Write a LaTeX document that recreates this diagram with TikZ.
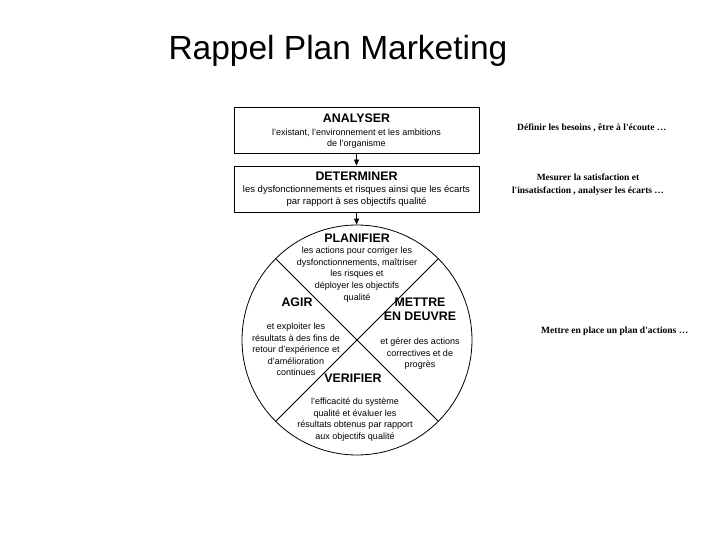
\documentclass[tikz,border=0pt]{standalone}
\usepackage{fontspec}
\setmainfont{Liberation Sans}
\newfontfamily\notefont{Liberation Serif}
\usetikzlibrary{arrows.meta}

\tikzset{
  stepbox/.style={draw, thick, minimum width=245pt, minimum height=46pt, inner sep=0pt},
  head/.style={font=\fontsize{12.4}{13.6}\selectfont\bfseries, align=center, inner sep=0pt},
  body/.style={align=center, font=\fontsize{9}{11.6}\selectfont, inner sep=0pt},
  note/.style={font=\notefont\bfseries\fontsize{9.5}{13}\selectfont, align=center, inner sep=0pt},
  flow/.style={-{Triangle[length=6pt,width=5pt]}, thick}
}

\begin{document}
\begin{tikzpicture}[x=1pt, y=-1pt]
  \useasboundingbox (0,0) rectangle (720,540);

  % Title
  \node[font=\fontsize{33.5}{38}\selectfont] (title) at (338,51) {Rappel Plan Marketing};

  % Boxes
  \node[stepbox] (analyser) at (356.5,130) {};
  \node[head] (analyser-t) at (356.5,118) {ANALYSER};
  \node[body] (analyser-b) at (356.5,138.5) {l'existant, l'environnement et les ambitions\\de l'organisme};

  \node[stepbox] (determiner) at (356.5,189) {};
  \node[head] (determiner-t) at (356.5,176) {DETERMINER};
  \node[body, font=\fontsize{9.5}{11.6}\selectfont] (determiner-b) at (356.5,196) {les dysfonctionnements et risques ainsi que les écarts\\par rapport à ses objectifs qualité};

  % Wheel
  \node[draw, thick, circle, minimum size=230pt, inner sep=0pt] (wheel) at (357,340) {};
  \draw[thick] (wheel.135) -- (wheel.-45);
  \draw[thick] (wheel.45) -- (wheel.-135);

  \draw[flow] (analyser) -- (determiner);
  \draw[flow] (determiner) -- (wheel);

  % Quarters
  \node[head] (planifier) at (357,238) {PLANIFIER};
  \node[body] (planifier-b) at (357,274.5) {les actions pour corriger les\\dysfonctionnements, maîtriser\\les risques et\\déployer les objectifs\\qualité};

  \node[head] (agir) at (297,302) {AGIR};
  \node[body] (agir-b) at (296,349.5) {et exploiter les\\résultats à des fins de\\retour d'expérience et\\d'amélioration\\continues};

  \node[head] (mettre) at (420,309.5) {METTRE\\EN DEUVRE};
  \node[body] (mettre-b) at (420,354) {et gérer des actions\\correctives et de\\progrès};

  \node[head] (verifier) at (353,378) {VERIFIER};
  \node[body] (verifier-b) at (355,419.5) {l'efficacité du système\\qualité et évaluer les\\résultats obtenus par rapport\\aux objectifs qualité};

  % Notes
  \node[note, anchor=west] (besoins) at (517,128) {Définir les besoins , être à l'écoute …};
  \node[note] (mesurer) at (588,184.5) {Mesurer la satisfaction et\\l'insatisfaction , analyser les écarts …};
  \node[note, anchor=west] (actions) at (541,331) {Mettre en place un plan d'actions …};
\end{tikzpicture}
\end{document}
